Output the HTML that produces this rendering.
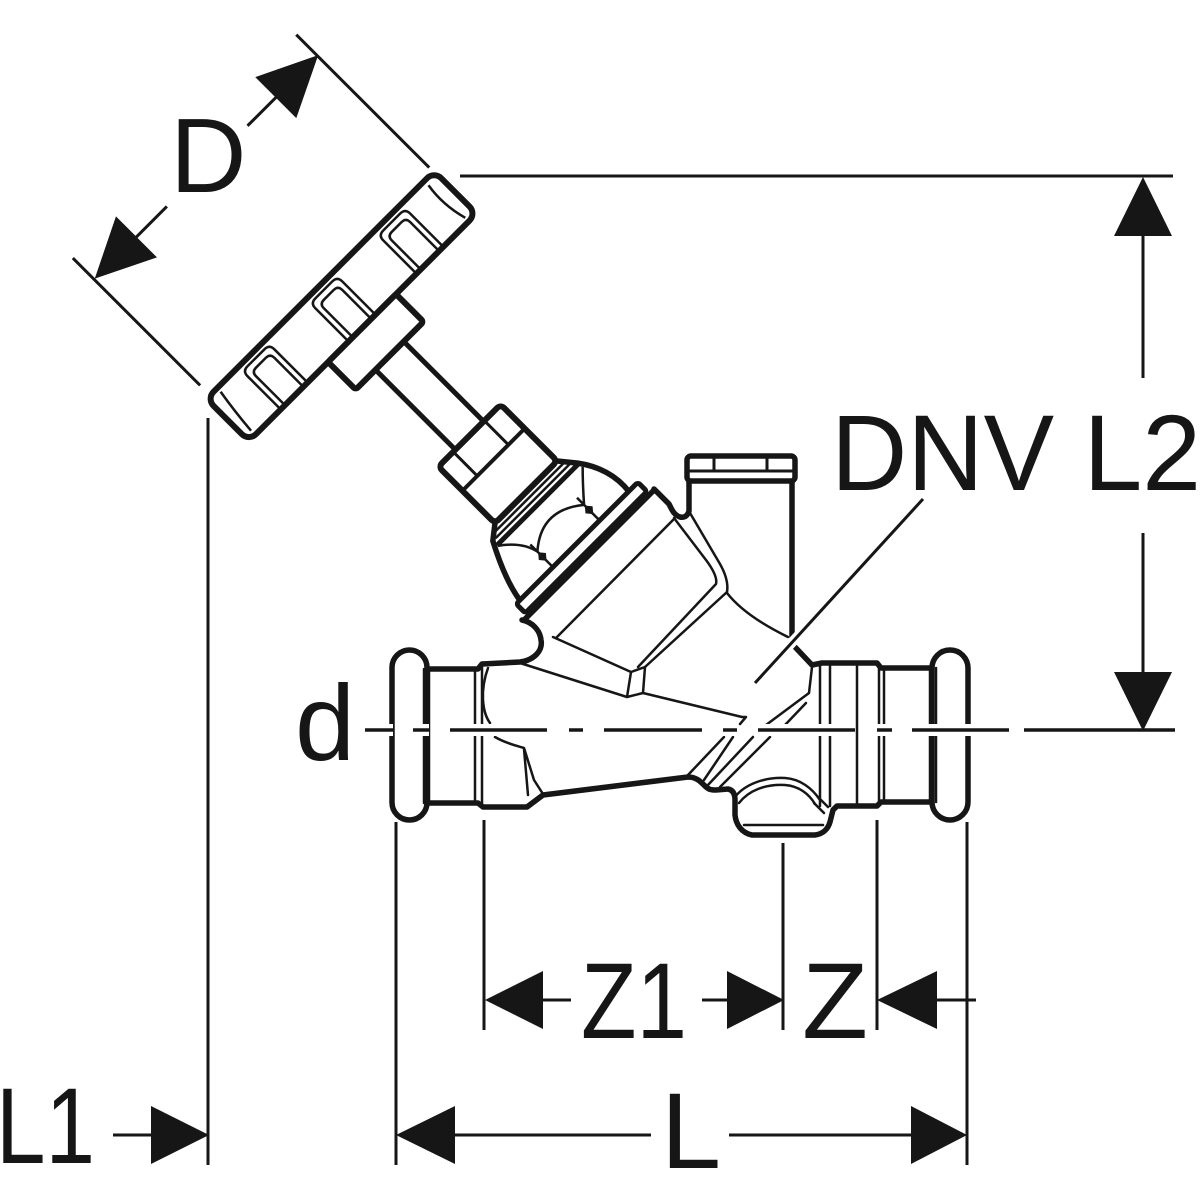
<!DOCTYPE html>
<html><head><meta charset="utf-8">
<style>html,body{margin:0;padding:0;background:#fff}svg{display:block}</style>
</head>
<body>
<svg xmlns="http://www.w3.org/2000/svg" width="1200" height="1200" viewBox="0 0 1200 1200">
<rect width="1200" height="1200" fill="#fff"/>

<!-- ===== Rotated bonnet / handwheel assembly ===== -->
<g transform="rotate(45)" stroke="#161616" fill="none" stroke-linejoin="round">
  <!-- D dimension -->
  <g stroke-width="3">
    <line x1="234" y1="-185" x2="422" y2="-185"/>
    <line x1="234" y1="131" x2="414" y2="131"/>
    <line x1="264" y1="-128" x2="264" y2="-86"/>
    <line x1="264" y1="28" x2="264" y2="73"/>
  </g>
  <polygon fill="#161616" stroke="none" points="264,-186 235,-126 293,-126"/>
  <polygon fill="#161616" stroke="none" points="264,130 235,71 293,71"/>

  <!-- handwheel -->
  <rect x="428" y="-186" width="60" height="322" rx="10" fill="#fff" stroke-width="6"/>
  <path stroke-width="2.5" d="M434,-172 Q458,-168 483,-175 M433,121 Q457,125 482,127"/>
  <g stroke-width="2.5">
    <path d="M486,-139 L441,-139 Q434,-139 434,-132 L434,-108 Q434,-101 441,-101 L486,-101"/>
    <path d="M486,-133 L447,-133 Q441,-133 441,-127 L441,-113 Q441,-107 447,-107 L486,-107"/>
    <path d="M486,-43 L441,-43 Q434,-43 434,-36 L434,-12 Q434,-5 441,-5 L486,-5"/>
    <path d="M486,-37 L447,-37 Q441,-37 441,-31 L441,-17 Q441,-11 447,-11 L486,-11"/>
    <path d="M486,53 L441,53 Q434,53 434,60 L434,84 Q434,91 441,91 L486,91"/>
    <path d="M486,59 L447,59 Q441,59 441,65 L441,79 Q441,85 447,85 L486,85"/>
  </g>

  <!-- stem -->
  <rect x="525" y="-44" width="117" height="40" fill="#fff" stroke-width="5"/>
  <!-- hub -->
  <rect x="488" y="-72" width="39" height="96" rx="3" fill="#fff" stroke-width="6"/>
  <!-- nut -->
  <rect x="640" y="-68" width="80" height="88" rx="5" fill="#fff" stroke-width="6"/>
  <path stroke-width="3" d="M640,-45 L674,-45 M640,-1 L674,-1"/>
  <line x1="674" y1="-68" x2="674" y2="20" stroke-width="4"/>

  <!-- collar + dome -->
  <path stroke-width="5.5" d="M720,-68 L736,-81 C752,-93 772,-100 793,-97 M720,20 L731,34 C750,44 772,54 793,57"/>
  <path stroke-width="2.5" d="M726,-72 L726,25 M731,-76 L731,30"/>
  <line x1="737" y1="-81" x2="737" y2="34" stroke-width="5"/>
  <!-- sight window -->
  <path stroke-width="2.5" d="M738,34 Q752,14 770,10 M770,10 Q742,-22 770,-56 M770,-56 Q754,-70 742,-82 M760,10 L792,10 M760,-56 L792,-56"/>
  <path fill="#161616" stroke="none" d="M771,10 L777,5 L783,10 L777,15 Z M771,-56 L777,-61 L783,-56 L777,-51 Z"/>

  <!-- ring -->
  <rect x="792" y="-110" width="13" height="172" rx="3" fill="#fff" stroke-width="5"/>
  <line x1="809" y1="-117" x2="809" y2="69" stroke-width="5.5"/>
</g>

<!-- ===== Valve body (absolute) ===== -->
<g stroke="#161616" fill="none" stroke-linejoin="round" stroke-linecap="round">
  <g stroke-width="5.5">
    <path d="M427,669 L478,669 L482,664 L520,662 C535,660 543,650 541,640 C540,630 532,622 522,620"/>
    <path d="M427,803 L478,803 L483,807 L527,807 L543,795 L688,777 C696,777 700,781 705,786 C709,790 712,790 716,790 L728,789 C733,790 735,794 735,800 L735,815 C736,825 742,833 752,835 L815,835 C823,834 828,829 830,822 L833,810 L837,806 L877,806 L881,802 L932,802"/>
    <path d="M795,647 L812,665 L822,663 L877,663 L881,668 L932,668"/>
    <path d="M654,489 L669,504 C672,510 674,515 680,517 C685,518 688,515 689,511 L689,481"/>
    <path d="M792,481 L792,637"/>
    <rect x="687" y="456" width="108" height="25" rx="4" fill="#fff"/>
    <rect x="392" y="650" width="35" height="170" rx="17.5" fill="#fff"/>
    <rect x="932" y="650" width="36" height="170" rx="18" fill="#fff"/>
  </g>
  <path stroke-width="3" d="M690,471 L792,471 M714,459 L714,471 M767,459 L767,471"/>

  <g stroke-width="2.5">
    <!-- fitting lines -->
    <path d="M424,669 L424,803 M429,669 L429,803 M475,669 L475,803 M482,664 L482,807"/>
    <path d="M820,665 L820,806 M830,663 L830,806 M857,663 L857,806 M879,665 L879,804 M884,668 L884,802 M930,668 L930,802 M936,668 L936,802"/>
    <!-- right junction -->
    <path d="M812,667 L809,693 L766,725 M806,703 L785,725"/>
    <!-- left interior -->
    <path d="M488,668 C480,690 482,712 490,723"/>
    <path d="M495,737 C507,744 518,746 524,748 L534,780 L543,794 M524,749 L528,795"/>
    <!-- bonnet body piece -->
    <path d="M556,638 L673,520"/>
    <path d="M553,637 L631,672"/>
    <path d="M631,672 L645,667 L643,693 L627,697 Z"/>
    <path d="M520,663 L627,697 M643,693 L742,717 L746,717 L740,724"/>
    <path d="M674,518 L706,560 Q718,576 716,584 L638,667"/>
    <path d="M690,513 L720,564 Q729,580 727,592 L645,667"/>
    <path d="M727,593 Q745,616 788,637"/>
    <!-- lower diagonals -->
    <path d="M724,737 L688,775 M733,737 L704,780 M753,737 L708,785 M770,737 L720,787"/>
    <!-- drain plug -->
    <path d="M735,797 C745,784 765,777 785,778 C800,779 812,788 820,800"/>
    <path d="M739,803 C749,790 766,784 785,785 C799,786 809,794 815,804"/>
    <path d="M818,797 L828,807 M814,803 L824,813"/>
    <path d="M744,825 L823,825"/>
  </g>
</g>

<!-- ===== Halos + centerline + leader ===== -->
<path stroke="#fff" stroke-width="12" fill="none" d="M365,730 H393 M413,730 H429 M450,730 H547 M569,730 H583 M604,730 H702 M723,730 H737 M758,730 H855 M877,730 H892 M912,730 H1009 M1024,730 H1175"/>
<path stroke="#161616" stroke-width="3.5" fill="none" d="M365,730 H393 M413,730 H429 M450,730 H547 M569,730 H583 M604,730 H702 M723,730 H737 M758,730 H855 M877,730 H892 M912,730 H1009 M1024,730 H1175"/>
<line x1="923" y1="499" x2="755" y2="683" stroke="#fff" stroke-width="10"/>
<line x1="923" y1="499" x2="755" y2="683" stroke="#161616" stroke-width="3"/>

<!-- ===== Dimensions ===== -->
<g stroke="#161616" fill="none" stroke-width="3">
  <line x1="460" y1="176" x2="1173" y2="176"/>
  <line x1="1143" y1="232" x2="1143" y2="378"/>
  <line x1="1143" y1="533" x2="1143" y2="675"/>
  <line x1="208" y1="418" x2="208" y2="1165"/>
  <line x1="113" y1="1135" x2="155" y2="1135"/>
  <line x1="396" y1="822" x2="396" y2="1165"/>
  <line x1="484" y1="820" x2="484" y2="1030"/>
  <line x1="783" y1="843" x2="783" y2="1030"/>
  <line x1="877" y1="820" x2="877" y2="1030"/>
  <line x1="967" y1="822" x2="967" y2="1165"/>
  <line x1="540" y1="1000" x2="571" y2="1000"/>
  <line x1="702" y1="1000" x2="730" y2="1000"/>
  <line x1="935" y1="1000" x2="976" y2="1000"/>
  <line x1="452" y1="1135" x2="651" y2="1135"/>
  <line x1="729" y1="1135" x2="914" y2="1135"/>
</g>
<g fill="#161616">
  <polygon points="1143,177 1114,236 1172,236"/>
  <polygon points="1143,731 1114,672 1172,672"/>
  <polygon points="209,1135 151,1106 151,1164"/>
  <polygon points="485,1000 543,971 543,1029"/>
  <polygon points="784,1000 727,971 727,1029"/>
  <polygon points="877,1000 937,971 937,1029"/>
  <polygon points="396,1135 455,1106 455,1164"/>
  <polygon points="967,1135 911,1106 911,1164"/>
</g>

<!-- ===== Labels ===== -->
<g font-family="'Liberation Sans', Arial, sans-serif" fill="#161616">
  <text x="170" y="192" font-size="106">D</text>
  <text x="831" y="490" font-size="108" textLength="370" lengthAdjust="spacingAndGlyphs">DNV L2</text>
  <text x="295" y="760" font-size="108">d</text>
  <text x="581" y="1038" font-size="108" textLength="106" lengthAdjust="spacingAndGlyphs">Z1</text>
  <text x="802" y="1038" font-size="108">Z</text>
  <text x="661" y="1168" font-size="108">L</text>
  <text x="-4" y="1163" font-size="108" textLength="99" lengthAdjust="spacingAndGlyphs">L1</text>
</g>
</svg>
</body></html>
